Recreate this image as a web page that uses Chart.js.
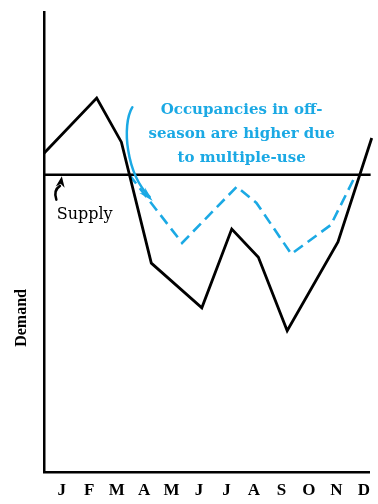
<!DOCTYPE html>
<html>
<head>
<meta charset="utf-8">
<script src="https://cdn.jsdelivr.net/npm/chart.js@4/dist/chart.umd.min.js"></script>
<style>
  html, body { margin: 0; padding: 0; background: #fff; }
  #wrap { width: 378px; height: 504px; position: relative; }
</style>
</head>
<body>
<div id="wrap"><canvas id="chart"></canvas></div>
<script>
const months = ['J', 'F', 'M', 'A', 'M', 'J', 'J', 'A', 'S', 'O', 'N', 'D'];

// demand through the year (x = month index, y = level)
const demandX = [-0.65, 1.27, 2.17, 3.26, 5.1, 6.19, 7.16, 8.21, 10.06, 11.29];
const demandY = [69.3, 81.3, 71.7, 45.4, 35.7, 52.8, 46.7, 30.7, 50.0, 72.6];

// off-season occupancy with multiple use
const offX = [2.46, 4.38, 6.37, 7.09, 8.36, 9.8, 10.71];
const offY = [64.6, 49.8, 62.0, 58.5, 47.4, 53.7, 64.6];

// flat supply level
const supplyX = [-0.65, 11.25];
const supplyY = [64.6, 64.6];

const noteLines = ['Occupancies in off-', 'season are higher due', 'to multiple-use'];
const noteX = 6.55;
const noteY = [78.6, 73.4, 68.3];

// curved callout arrow (bezier points)
const calloutX = [2.57, 2.17, 2.35, 3.2];
const calloutY = [79.3, 75.4, 64.8, 59.8];

const supplyArrowX = [-0.2, -0.32, -0.07, 0.0];
const supplyArrowY = [59.2, 61.2, 62.2, 64.3];

const blue = '#1ba9e4';

const xy = (xs, ys) => xs.map((v, i) => ({ x: v, y: ys[i] }));

function arrowHead(ctx, fromX, fromY, tipX, tipY, len, half) {
  const a = Math.atan2(tipY - fromY, tipX - fromX);
  ctx.beginPath();
  ctx.moveTo(tipX, tipY);
  ctx.lineTo(tipX - len * Math.cos(a) + half * Math.sin(a), tipY - len * Math.sin(a) - half * Math.cos(a));
  ctx.lineTo(tipX - len * 0.7 * Math.cos(a), tipY - len * 0.7 * Math.sin(a));
  ctx.lineTo(tipX - len * Math.cos(a) - half * Math.sin(a), tipY - len * Math.sin(a) + half * Math.cos(a));
  ctx.closePath();
  ctx.fill();
}

const notes = {
  id: 'notes',
  afterDraw(chart) {
    const { ctx, scales: { x, y } } = chart;
    const px = v => x.getPixelForValue(v);
    const py = v => y.getPixelForValue(v);
    ctx.save();

    // callout text
    ctx.fillStyle = blue;
    ctx.font = 'bold 15px "DejaVu Serif"';
    ctx.textAlign = 'center';
    ctx.textBaseline = 'middle';
    noteLines.forEach((t, i) => ctx.fillText(t, px(noteX), py(noteY[i])));

    // callout arrow
    ctx.strokeStyle = blue;
    ctx.lineWidth = 2.5;
    ctx.lineCap = 'round';
    ctx.beginPath();
    ctx.moveTo(px(calloutX[0]), py(calloutY[0]));
    ctx.bezierCurveTo(px(calloutX[1]), py(calloutY[1]), px(calloutX[2]), py(calloutY[2]), px(calloutX[3]), py(calloutY[3]));
    ctx.stroke();
    arrowHead(ctx, px(calloutX[2]), py(calloutY[2]), px(calloutX[3]) + 3, py(calloutY[3]) + 4, 15, 4);

    // supply label and arrow
    ctx.fillStyle = '#000';
    ctx.strokeStyle = '#000';
    ctx.font = '16px "DejaVu Serif"';
    ctx.fillText('Supply', px(0.83), py(55.9));
    ctx.lineWidth = 2.5;
    ctx.beginPath();
    ctx.moveTo(px(supplyArrowX[0]), py(supplyArrowY[0]));
    ctx.quadraticCurveTo(px(supplyArrowX[1]), py(supplyArrowY[1]), px(supplyArrowX[2]), py(supplyArrowY[2]));
    ctx.stroke();
    arrowHead(ctx, px(supplyArrowX[2]), py(supplyArrowY[2]) + 3, px(supplyArrowX[3]), py(supplyArrowY[3]), 11, 4.5);

    // vertical axis title
    ctx.translate(px(-1.45), py(33.5));
    ctx.rotate(-Math.PI / 2);
    ctx.font = 'bold 16px "Liberation Serif"';
    ctx.fillText('Demand', 0, 0);
    ctx.restore();
  }
};

const ctx = document.getElementById('chart').getContext('2d');

new Chart(ctx, {
  type: 'line',
  data: {
    datasets: [
      {
        label: 'Supply',
        data: xy(supplyX, supplyY),
        borderColor: '#000',
        borderWidth: 2.5,
        pointRadius: 0
      },
      {
        label: 'Demand',
        data: xy(demandX, demandY),
        borderColor: '#000',
        borderWidth: 2.8,
        pointRadius: 0,
        tension: 0
      },
      {
        label: 'Multiple use',
        data: xy(offX, offY),
        borderColor: blue,
        borderWidth: 2.6,
        borderDash: [11, 6],
        pointRadius: 0,
        tension: 0
      }
    ]
  },
  options: {
    responsive: true,
    maintainAspectRatio: false,
    animation: false,
    clip: false,
    layout: { padding: { top: 12, right: 5, left: 0, bottom: 0 } },
    plugins: {
      legend: { display: false },
      tooltip: { enabled: false }
    },
    scales: {
      x: {
        type: 'linear',
        min: -0.65,
        max: 11.2,
        afterFit: s => { s.height = 32; },
        afterBuildTicks: s => { s.ticks = months.map((m, i) => ({ value: i })); },
        ticks: {
          autoSkip: false,
          maxRotation: 0,
          padding: 8,
          color: '#000',
          font: { family: '"Liberation Serif"', weight: 'bold', size: 17 },
          callback: (v) => months[v]
        },
        grid: { display: false, drawTicks: false },
        border: { display: true, color: '#000', width: 2.5 }
      },
      y: {
        min: 0,
        max: 100,
        afterFit: s => { s.width = 44; },
        ticks: { display: false },
        grid: { display: false, drawTicks: false },
        border: { display: true, color: '#000', width: 2.5 }
      }
    }
  },
  plugins: [notes]
});
</script>
</body>
</html>
